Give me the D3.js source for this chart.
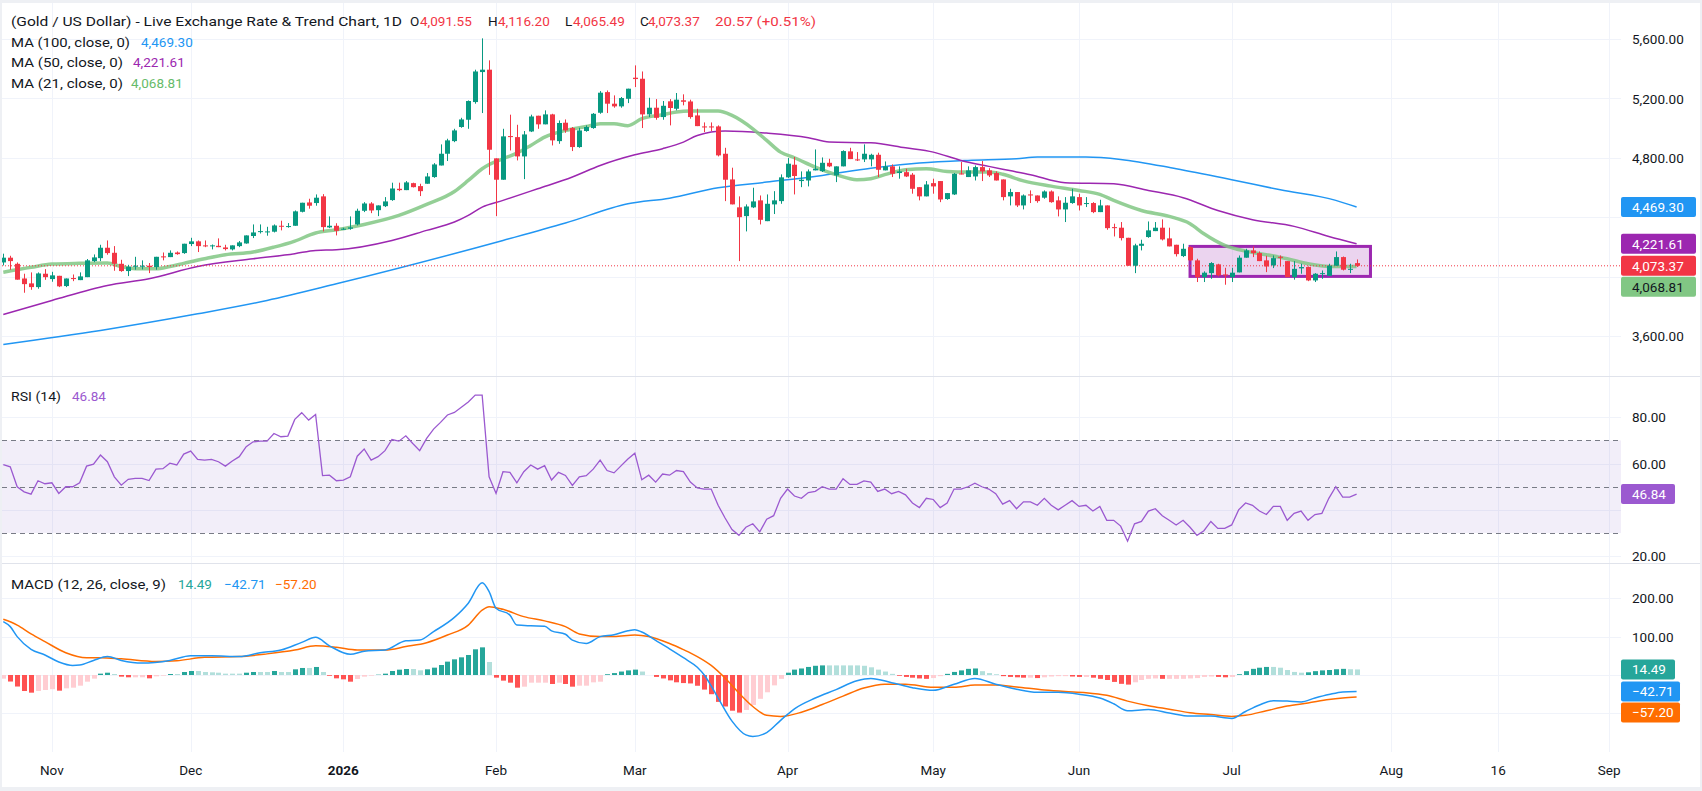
<!DOCTYPE html>
<html>
<head>
<meta charset="utf-8">
<script src="https://cdn.jsdelivr.net/npm/d3@7"></script>
<style>
  body { margin: 0; background: #fff; }
  svg { display: block; font-family: Roboto, 'Noto Sans', sans-serif; }
</style>
</head>
<body>
<div id="chart"></div>
<script>
// daily candles, index 0 = first visible bar (late Oct 2025)
const openP = [
  4096, 4128, 4087, 3988, 3955, 3930, 4020, 3984, 4006, 3937,
  3991, 3977, 3997, 4105, 4125, 4195, 4161, 4087, 4038, 4067,
  4072, 4074, 4065, 4137, 4132, 4163, 4159, 4220, 4238, 4211,
  4206, 4208, 4197, 4184, 4206, 4224, 4274, 4303, 4303, 4303,
  4343, 4339, 4343, 4437, 4500, 4496, 4541, 4332, 4343, 4321,
  4323, 4352, 4444, 4493, 4448, 4475, 4516, 4592, 4583, 4630,
  4610, 4626, 4671, 4749, 4828, 4913, 5008, 5057, 5176, 5378,
  5394, 4797, 4653, 4947, 4940, 4810, 4978, 5084, 5026, 5093,
  4913, 5037, 5001, 4873, 4981, 5001, 5104, 5243, 5165, 5147,
  5198, 5340, 5333, 5093, 5138, 5075, 5181, 5131, 5188, 5180,
  5086, 5012, 5012, 5012, 4828, 4655, 4467, 4408, 4467, 4514,
  4374, 4487, 4509, 4669, 4754, 4644, 4648, 4716, 4711, 4767,
  4682, 4743, 4844, 4790, 4790, 4790, 4821, 4716, 4743, 4698,
  4704, 4687, 4603, 4541, 4630, 4644, 4523, 4554, 4695, 4671,
  4675, 4738, 4716, 4698, 4655, 4541, 4570, 4480, 4554, 4547,
  4532, 4574, 4514, 4453, 4496, 4536, 4491, 4496, 4435, 4480,
  4334, 4330, 4262, 4074, 4208, 4267, 4307, 4330, 4258, 4215,
  4139, 4199, 4110, 3997, 4024, 4083, 4015, 3997, 4029, 4128,
  4177, 4159, 4110, 4076, 4134, 4105, 3997, 4056, 4065, 3975,
  4020, 4006, 4074, 4132, 4047, 4091.55
]
const highP = [
  4155, 4141, 4096, 4020, 4029, 4029, 4051, 4033, 4006, 3988,
  4015, 4029, 4119, 4150, 4215, 4244, 4206, 4114, 4080, 4134,
  4110, 4092, 4134, 4163, 4177, 4170, 4222, 4262, 4244, 4244,
  4217, 4258, 4215, 4211, 4240, 4278, 4352, 4352, 4336, 4352,
  4377, 4361, 4446, 4498, 4525, 4554, 4556, 4406, 4360, 4330,
  4406, 4458, 4502, 4502, 4480, 4536, 4633, 4633, 4644, 4633,
  4626, 4698, 4765, 4891, 4929, 4996, 5070, 5187, 5394, 5605,
  5457, 4797, 4996, 5091, 5023, 4981, 5091, 5084, 5120, 5097,
  5052, 5059, 5008, 5003, 5019, 5102, 5250, 5254, 5221, 5210,
  5266, 5423, 5382, 5205, 5196, 5183, 5196, 5237, 5228, 5192,
  5131, 5039, 5039, 5019, 4868, 4734, 4541, 4487, 4599, 4547,
  4554, 4576, 4689, 4799, 4806, 4709, 4722, 4857, 4803, 4794,
  4743, 4851, 4868, 4839, 4891, 4828, 4835, 4776, 4756, 4743,
  4727, 4698, 4603, 4644, 4660, 4644, 4563, 4698, 4772, 4743,
  4749, 4779, 4731, 4709, 4655, 4592, 4570, 4554, 4581, 4547,
  4581, 4581, 4541, 4536, 4592, 4559, 4536, 4502, 4518, 4480,
  4357, 4368, 4262, 4222, 4249, 4372, 4368, 4386, 4330, 4215,
  4222, 4204, 4121, 4036, 4098, 4087, 4060, 4060, 4143, 4188,
  4204, 4170, 4141, 4143, 4143, 4105, 4105, 4087, 4069, 4024,
  4042, 4087, 4170, 4136, 4087, 4116.2
]
const lowP = [
  4076, 4047, 3980, 3892, 3912, 3919, 3979, 3966, 3930, 3930,
  3970, 3977, 3997, 4098, 4105, 4148, 4040, 4033, 4004, 4047,
  4049, 4024, 4047, 4110, 4132, 4148, 4154, 4206, 4166, 4199,
  4184, 4199, 4177, 4177, 4199, 4222, 4260, 4291, 4276, 4298,
  4312, 4330, 4343, 4433, 4458, 4478, 4305, 4327, 4278, 4316,
  4316, 4345, 4435, 4428, 4408, 4469, 4511, 4576, 4583, 4601,
  4543, 4626, 4666, 4749, 4779, 4906, 5003, 4996, 5165, 5102,
  4686, 4408, 4653, 4850, 4783, 4657, 4974, 4996, 5026, 4884,
  4895, 4969, 4846, 4868, 4976, 4996, 5097, 5102, 5138, 5138,
  5169, 5277, 5001, 5075, 5057, 5057, 5019, 5120, 5154, 5064,
  5014, 4974, 4981, 4810, 4509, 4487, 4105, 4305, 4462, 4352,
  4374, 4422, 4491, 4664, 4554, 4603, 4608, 4716, 4705, 4738,
  4637, 4743, 4792, 4779, 4772, 4743, 4671, 4716, 4671, 4660,
  4671, 4559, 4514, 4541, 4559, 4502, 4518, 4550, 4689, 4671,
  4648, 4644, 4671, 4648, 4514, 4480, 4469, 4453, 4496, 4498,
  4525, 4498, 4406, 4368, 4491, 4446, 4469, 4428, 4435, 4316,
  4271, 4244, 4074, 4024, 4177, 4262, 4307, 4244, 4204, 4136,
  4132, 4105, 3964, 3964, 3986, 4002, 3946, 3964, 4029, 4128,
  4132, 4105, 4031, 4058, 4069, 3997, 3980, 4020, 3970, 3964,
  3986, 4006, 4074, 4042, 4024, 4065.49
]
const closeP = [
  4128, 4105, 3980, 3950, 3930, 4022, 3997, 4009, 3935, 3988,
  3984, 4002, 4110, 4130, 4195, 4159, 4087, 4038, 4067, 4074,
  4074, 4065, 4134, 4130, 4161, 4152, 4222, 4238, 4206, 4204,
  4211, 4199, 4186, 4211, 4231, 4278, 4298, 4307, 4305, 4345,
  4339, 4341, 4440, 4498, 4478, 4532, 4334, 4343, 4309, 4323,
  4332, 4444, 4493, 4446, 4480, 4507, 4594, 4583, 4635, 4603,
  4576, 4675, 4756, 4828, 4918, 4985, 5059, 5183, 5382, 5394,
  4855, 4653, 4945, 4940, 4810, 4958, 5079, 5026, 5093, 4918,
  5035, 4985, 4873, 4985, 5008, 5097, 5239, 5165, 5147, 5203,
  5266, 5331, 5093, 5138, 5070, 5151, 5136, 5192, 5178, 5075,
  5014, 5005, 5005, 4817, 4653, 4487, 4401, 4473, 4507, 4383,
  4491, 4514, 4669, 4761, 4678, 4653, 4709, 4727, 4767, 4743,
  4743, 4846, 4792, 4783, 4828, 4821, 4720, 4743, 4693, 4709,
  4675, 4592, 4541, 4621, 4608, 4520, 4563, 4693, 4689, 4716,
  4738, 4709, 4682, 4648, 4536, 4570, 4480, 4547, 4547, 4509,
  4574, 4502, 4453, 4498, 4541, 4480, 4496, 4435, 4480, 4327,
  4327, 4260, 4074, 4211, 4222, 4312, 4330, 4251, 4204, 4152,
  4188, 4110, 3997, 4027, 4092, 4009, 4009, 4027, 4128, 4177,
  4159, 4105, 4069, 4125, 4128, 3997, 4053, 4065, 3975, 4020,
  4024, 4074, 4132, 4047, 4053, 4073.37
]

// moving averages as [bar index, value]
const ma21 = [[0, 4030], [4, 4063], [7, 4085], [11, 4090], [15, 4092], [17, 4068], [19, 4054], [22, 4054], [24, 4069], [26, 4090], [29, 4121], [32, 4148], [36, 4166], [39, 4199], [42, 4240], [45, 4294], [48, 4316], [52, 4352], [57, 4413], [61, 4487], [65, 4574], [67, 4648], [69, 4727], [70, 4756], [72, 4794], [74, 4832], [76, 4884], [78, 4940], [81, 4985], [84, 5012], [86, 5030], [88, 5030], [90, 5017], [92, 5064], [95, 5091], [97, 5109], [99, 5115], [103, 5115], [105, 5086], [108, 4996], [110, 4918], [112, 4839], [114, 4801], [117, 4738], [120, 4687], [123, 4653], [125, 4660], [127, 4687], [130, 4720], [133, 4727], [136, 4709], [139, 4705], [142, 4705], [144, 4690], [147, 4645], [151, 4610], [155, 4581], [158, 4554], [160, 4514], [164, 4446], [168, 4406], [171, 4357], [173, 4289], [176, 4211], [179, 4172], [182, 4148], [185, 4121], [188, 4087], [191, 4069], [193, 4069], [195, 4068.81]]
const ma50 = [[0, 3746], [7, 3840], [15, 3941], [21, 3986], [28, 4069], [36, 4121], [42, 4155], [45, 4177], [48, 4181], [56, 4244], [61, 4312], [65, 4368], [67, 4413], [69, 4469], [72, 4514], [77, 4592], [82, 4671], [86, 4749], [91, 4821], [95, 4862], [98, 4906], [100, 4951], [104, 4981], [110, 4967], [116, 4936], [119, 4907], [125, 4902], [130, 4868], [134, 4839], [138, 4783], [142, 4743], [145, 4715], [148, 4687], [153, 4633], [160, 4626], [165, 4581], [170, 4532], [175, 4446], [180, 4384], [186, 4339], [191, 4271], [195, 4221.61]]
const ma100 = [[0, 3544], [14, 3638], [28, 3750], [38, 3840], [48, 3952], [72, 4244], [81, 4361], [90, 4491], [96, 4529], [103, 4599], [110, 4637], [118, 4682], [125, 4731], [132, 4765], [139, 4783], [146, 4794], [149, 4806], [156, 4806], [161, 4790], [169, 4727], [177, 4653], [184, 4585], [192, 4514], [195, 4469.3]]

const rsiValues = [
  59.6, 58.6, 50, 47.8, 46.8, 52.6, 51.3, 51.7, 47.1, 50,
  50, 51.7, 58.9, 59.8, 63.7, 60.8, 54.3, 50.7, 53.2, 53.6,
  53.6, 52.7, 57.6, 57.8, 60.2, 59.4, 64.1, 65.4, 61.8, 61.5,
  61.8, 60.8, 58.9, 61.1, 63, 67.3, 69.4, 69.7, 69.7, 73,
  71.6, 71.9, 79.1, 82, 78.8, 81.2, 54.8, 55, 52.6, 52.9,
  54.3, 63.2, 66.3, 61.5, 63, 65.6, 70.4, 69.7, 72, 68.7,
  65.6, 70.9, 74.9, 77.8, 81, 82.1, 84.3, 86.6, 89.6, 89.6,
  54.3, 47.1, 56.5, 56.2, 51.7, 56.5, 59.4, 57.6, 59.1, 52.9,
  56.2, 54.9, 50.6, 54.3, 54.8, 57.6, 61.5,
  57, 56, 59, 62, 64.5, 53, 55, 52, 55.5, 55,
  57, 56.5, 52, 49.5, 49, 49, 42, 36.5, 31.5, 29,
  32.5, 34, 30.5, 36, 37.5, 45, 49, 46, 45, 47.5,
  48, 50, 49, 49, 53.5, 51, 51, 52.5, 52, 48,
  49, 47, 48, 46.5, 43, 41, 45, 44.5, 41, 43,
  49, 49, 50, 51.5, 50, 49, 47, 42.5, 44, 40.5,
  43.5, 43.5, 42, 45, 42, 40, 42, 44, 41.5, 42,
  39.5, 41.5, 35.5, 35.5, 33, 26.5, 34, 35, 39.5, 40.5,
  37.5, 35.5, 33.5, 35.5, 32.5, 29, 31, 35, 32, 32,
  33.5, 40, 43, 42, 39.5, 38, 41.5, 41.5, 35.5, 38.5,
  39.5, 35.5, 38, 38.5, 45, 50, 45.5, 45.5, 46.84
]

const macdHist = [
  -9.5, -17, -30, -41.7, -46, -41.7, -39, -37, -40.8, -34.7,
  -33, -27.8, -17.4, -9.5, 3.5, 6, 2.6, -4.3, -6, -6,
  -6, -8.7, -3.5, -1.7, 2.6, 2.6, 7.8, 10.4, 10.4, 7.8,
  7, 6, 3.5, 3.5, 3.5, 6, 7.8, 7.8, 7.8, 10.4,
  7.8, 7.8, 14.8, 18.3, 18.3, 20.9, 7.8, -2, -8.7, -11.3,
  -17.4, -10.4, -4.3, -1.7, 0.9, 3.5, 10.4, 13.9, 15.6, 15.6,
  12.2, 14.8, 19.1, 26, 34.8, 40.8, 46, 52.1, 66.9, 72,
  33.9, -6.9, -14.7, -20, -33, -30.4, -20, -20, -20, -23.4,
  -20, -23.4, -30.4, -27.8, -27.8, -19.1, -17.4,
  2, 5, 9, 12, 14, 9, 0, -5, -9, -14,
  -19, -21, -22, -28, -38, -50, -70, -82, -93, -98,
  -91, -78, -62, -45, -27, -10, 6, 14, 17, 21,
  24, 25, 25, 25, 25, 25, 25, 24, 20, 14,
  9, 3, -2, -5, -7, -9, -10, -8, -3, 3,
  8, 12, 16, 17, 10, 5, 2, -3, -5, -6,
  -7, -7, -8, -6, -4, -3, -3, -4, -5, -5,
  -7, -10, -13, -18, -23, -25, -19, -13, -10, -9,
  -10, -10, -10, -10, -9, -8, -5, -4, -5, -6,
  -5, 2, 10, 16, 19, 21, 21, 19, 13, 8,
  6, 7, 10, 12, 13, 15, 16, 15, 14.49
]
const macdLine = [[0, 139], [1, 126], [2, 100], [4, 67], [6, 52], [8, 34], [10, 25], [11, 26], [13, 38], [15, 48], [17, 38], [20, 31], [24, 38], [27, 50], [30, 50], [34, 48], [37, 58], [40, 65], [43, 85], [45, 98], [47, 76], [50, 54], [52, 62], [55, 65], [58, 89], [60, 91], [62, 113], [65, 150], [67, 187], [69, 240], [70, 217], [71, 174], [73, 156], [74, 130], [76, 128], [78, 127], [79, 115], [81, 106], [82, 91], [84, 82], [86, 100], [88, 105], [90, 115], [91, 118], [92, 112], [94, 90], [96, 68], [98, 45], [100, 20], [101, 0], [103, -60], [105, -120], [107, -156], [108, -160], [110, -150], [112, -118], [114, -88], [117, -60], [120, -38], [123, -15], [125, -9], [128, -20], [131, -33], [134, -40], [137, -24], [140, -9], [143, -24], [146, -37], [149, -45], [152, -45], [155, -50], [158, -60], [160, -75], [162, -93], [165, -90], [168, -99], [171, -107], [174, -107], [177, -113], [179, -95], [181, -78], [183, -67], [185, -68], [187, -70], [189, -60], [191, -51], [193, -44], [195, -42.71]]
const signalLine = [[0, 145], [2, 130], [4, 107], [6, 87], [9, 58], [12, 45], [14, 45], [17, 42], [22, 35], [25, 37], [29, 46], [34, 48], [38, 55], [42, 65], [45, 76], [48, 72], [51, 65], [55, 65], [58, 74], [61, 84], [64, 104], [67, 130], [69, 169], [70, 178], [72, 171], [75, 152], [78, 141], [81, 126], [83, 107], [86, 100], [88, 100], [91, 104], [93, 100], [96, 82], [98, 66], [100, 48], [102, 25], [104, -8], [106, -47], [108, -82], [110, -105], [112, -108], [115, -97], [118, -77], [121, -55], [124, -34], [127, -24], [130, -24], [134, -32], [137, -32], [140, -26], [143, -26], [146, -31], [150, -39], [153, -43], [156, -46], [159, -53], [162, -68], [165, -80], [168, -89], [171, -98], [174, -103], [177, -108], [179, -105], [182, -93], [185, -81], [188, -73], [191, -64], [193, -60], [195, -57.2]]

const priceTicks = [3600, 4000, 4400, 4800, 5200, 5600]
const rsiTicks = [20, 40, 60, 80]
const macdTicks = [100, 200]
const timeLabels = ['Nov', 'Dec', '2026', 'Feb', 'Mar', 'Apr', 'May', 'Jun', 'Jul', 'Aug', '16', 'Sep']
const timeIndex = [7, 27, 49, 71, 91, 113, 134, 155, 177, 200, 215.4, 231.4]
// consolidation box drawn on the chart: bar range and price range
const boxBars = [171, 197]
const boxPrices = [4002, 4204]

const width = 1702
const height = 791
const plotRight = 1621
const green = '#089981'
const red = '#f23645'
const textColor = '#131722'
const gridColor = '#f0f3fa'

const svg = d3
  .select('#chart')
  .append('svg')
  .attr('width', width)
  .attr('height', height)

svg.append('rect').attr('width', width).attr('height', height).attr('fill', '#eef0f4')
svg.append('rect').attr('x', 2).attr('y', 3).attr('width', 1698).attr('height', 784).attr('fill', '#fff')

const x = d3.scaleLinear().domain([0, 195]).range([3.3, 3.3 + 195 * 6.94])
const yPrice = d3.scaleLinear().domain([3600, 5600]).range([336.1, 39.1])
const yRsi = d3.scaleLinear().domain([20, 80]).range([556.2, 417.3])
const yMacd = d3.scaleLinear().domain([-100, 200]).range([713.4, 598.2])

const panes = [
  { id: 'clip-price', top: 3, bottom: 376 },
  { id: 'clip-rsi', top: 376, bottom: 563 },
  { id: 'clip-macd', top: 563, bottom: 752 }
]
const defs = svg.append('defs')
panes.forEach(p => {
  defs
    .append('clipPath')
    .attr('id', p.id)
    .append('rect')
    .attr('x', 2)
    .attr('y', p.top)
    .attr('width', plotRight - 2)
    .attr('height', p.bottom - p.top)
})

// grid
const grid = svg.append('g').attr('stroke', gridColor).attr('stroke-width', 1)
timeIndex.forEach(i => {
  const gx = Math.round(x(i)) + 0.5
  panes.forEach(p => {
    grid.append('line').attr('x1', gx).attr('x2', gx).attr('y1', p.top).attr('y2', p.bottom)
  })
})
priceTicks.forEach(v => {
  grid.append('line').attr('x1', 2).attr('x2', plotRight).attr('y1', Math.round(yPrice(v)) + 0.5).attr('y2', Math.round(yPrice(v)) + 0.5)
})
rsiTicks.forEach(v => {
  grid.append('line').attr('x1', 2).attr('x2', plotRight).attr('y1', Math.round(yRsi(v)) + 0.5).attr('y2', Math.round(yRsi(v)) + 0.5)
})
;[-100, 0, 100, 200].forEach(v => {
  grid.append('line').attr('x1', 2).attr('x2', plotRight).attr('y1', Math.round(yMacd(v)) + 0.5).attr('y2', Math.round(yMacd(v)) + 0.5)
})

// ---- price pane
const pricePane = svg.append('g').attr('clip-path', 'url(#clip-price)')

pricePane
  .append('rect')
  .attr('x', x(boxBars[0]))
  .attr('y', yPrice(boxPrices[1]))
  .attr('width', x(boxBars[1]) - x(boxBars[0]))
  .attr('height', yPrice(boxPrices[0]) - yPrice(boxPrices[1]))
  .attr('fill', 'rgba(156, 39, 176, 0.2)')
  .attr('stroke', '#9c27b0')
  .attr('stroke-width', 3)

const maLine = d3
  .line()
  .x(d => x(d[0]))
  .y(d => yPrice(d[1]))
  .curve(d3.curveMonotoneX)

pricePane.append('path').datum(ma100).attr('d', maLine).attr('fill', 'none').attr('stroke', '#2196f3').attr('stroke-width', 1.5)
pricePane.append('path').datum(ma50).attr('d', maLine).attr('fill', 'none').attr('stroke', '#9c27b0').attr('stroke-width', 1.5)
pricePane.append('path').datum(ma21).attr('d', maLine).attr('fill', 'none').attr('stroke', '#81c784').attr('stroke-width', 3.5).attr('stroke-opacity', 0.85)

const lastClose = closeP[closeP.length - 1]
pricePane
  .append('line')
  .attr('x1', 2)
  .attr('x2', plotRight)
  .attr('y1', yPrice(lastClose))
  .attr('y2', yPrice(lastClose))
  .attr('stroke', red)
  .attr('stroke-dasharray', '1,2')

const candles = pricePane
  .selectAll('g.candle')
  .data(closeP)
  .enter()
  .append('g')
  .attr('class', 'candle')
  .attr('fill', (d, i) => (d >= openP[i] ? green : red))
  .attr('stroke', (d, i) => (d >= openP[i] ? green : red))

candles
  .append('line')
  .attr('x1', (d, i) => Math.round(x(i)) + 0.5)
  .attr('x2', (d, i) => Math.round(x(i)) + 0.5)
  .attr('y1', (d, i) => yPrice(highP[i]))
  .attr('y2', (d, i) => yPrice(lowP[i]))
  .attr('stroke-width', 1)

candles
  .append('rect')
  .attr('stroke', 'none')
  .attr('x', (d, i) => Math.round(x(i)) - 2)
  .attr('width', 5)
  .attr('y', (d, i) => yPrice(Math.max(d, openP[i])))
  .attr('height', (d, i) => Math.max(1, Math.abs(yPrice(d) - yPrice(openP[i]))))

// ---- RSI pane
const rsiPane = svg.append('g').attr('clip-path', 'url(#clip-rsi)')
rsiPane
  .append('rect')
  .attr('x', 2)
  .attr('width', plotRight - 2)
  .attr('y', yRsi(70))
  .attr('height', yRsi(30) - yRsi(70))
  .attr('fill', 'rgba(126, 87, 194, 0.1)')
;[70, 50, 30].forEach(v => {
  rsiPane
    .append('line')
    .attr('x1', 2)
    .attr('x2', plotRight)
    .attr('y1', Math.round(yRsi(v)) + 0.5)
    .attr('y2', Math.round(yRsi(v)) + 0.5)
    .attr('stroke', '#787b86')
    .attr('stroke-dasharray', '5,4')
})
rsiPane
  .append('path')
  .datum(rsiValues)
  .attr('d', d3.line().x((d, i) => x(i)).y(d => yRsi(d)))
  .attr('fill', 'none')
  .attr('stroke', '#9b59d0')
  .attr('stroke-width', 1.3)

// ---- MACD pane
const macdPane = svg.append('g').attr('clip-path', 'url(#clip-macd)')
macdPane
  .selectAll('rect.hist')
  .data(macdHist)
  .enter()
  .append('rect')
  .attr('class', 'hist')
  .attr('x', (d, i) => Math.round(x(i)) - 2)
  .attr('width', 5)
  .attr('y', d => Math.min(yMacd(d), yMacd(0)))
  .attr('height', d => Math.abs(yMacd(d) - yMacd(0)))
  .attr('fill', (d, i) => {
    const prev = i > 0 ? macdHist[i - 1] : d
    if (d >= 0) return d > prev ? '#26a69a' : '#b2dfdb'
    return d < prev ? '#ff5252' : '#ffcdd2'
  })

const macdPath = d3
  .line()
  .x(d => x(d[0]))
  .y(d => yMacd(d[1]))
  .curve(d3.curveMonotoneX)
macdPane.append('path').datum(signalLine).attr('d', macdPath).attr('fill', 'none').attr('stroke', '#ff6d00').attr('stroke-width', 1.5)
macdPane.append('path').datum(macdLine).attr('d', macdPath).attr('fill', 'none').attr('stroke', '#2196f3').attr('stroke-width', 1.5)

// pane separators
;[376, 563].forEach(py => {
  svg.append('line').attr('x1', 2).attr('x2', 1700).attr('y1', py + 0.5).attr('y2', py + 0.5).attr('stroke', '#e0e3eb')
})

// ---- right axis
const lastMa100 = ma100[ma100.length - 1][1]
const lastMa50 = ma50[ma50.length - 1][1]
const lastMa21 = ma21[ma21.length - 1][1]
const priceTags = [
  { value: lastMa100, color: '#2196f3', w: 75 },
  { value: lastMa50, color: '#9c27b0', w: 75 },
  { value: lastClose, color: red, w: 75 },
  { value: lastMa21, color: '#81c784', w: 75, text: textColor }
]
const rsiTags = [{ value: rsiValues[rsiValues.length - 1], color: '#9b59d0', w: 54 }]
const macdTags = [
  { value: macdHist[macdHist.length - 1], color: '#26a69a', w: 54 },
  { value: macdLine[macdLine.length - 1][1], color: '#2196f3', w: 59 },
  { value: signalLine[signalLine.length - 1][1], color: '#ff6d00', w: 59 }
]

// stack tags so they never overlap, like the platform does
function layoutTags(tags, yScale) {
  let lastBottom = -Infinity
  return tags
    .map(t => Object.assign({ cy: yScale(t.value) }, t))
    .sort((a, b) => a.cy - b.cy)
    .map(t => {
      let top = t.cy - 10
      if (top < lastBottom + 1) top = lastBottom + 1
      lastBottom = top + 20
      return Object.assign({ top: top }, t)
    })
}
const placedPrice = layoutTags(priceTags, yPrice)
const placedRsi = layoutTags(rsiTags, yRsi)
const placedMacd = layoutTags(macdTags, yMacd)

const axis = svg.append('g').attr('font-size', 13.5).attr('fill', textColor)

// tick label only shows where no tag covers it
function tickText(v, yScale, format, placed) {
  const ty = yScale(v)
  const covered = placed.filter(t => ty + 7 > t.top && ty - 7 < t.top + 20)
  if (covered.length === 0) {
    axis.append('text').attr('x', 1632).attr('y', ty).attr('dominant-baseline', 'central').text(format(v))
  }
}
priceTicks.forEach(v => tickText(v, yPrice, d3.format(',.2f'), placedPrice))
rsiTicks.forEach(v => tickText(v, yRsi, d3.format('.2f'), placedRsi))
macdTicks.forEach(v => tickText(v, yMacd, d3.format('.2f'), placedMacd))

function drawTags(placed, format) {
  placed.forEach(t => {
    axis
      .append('rect')
      .attr('x', 1621)
      .attr('y', t.top)
      .attr('width', t.w)
      .attr('height', 20)
      .attr('rx', 2)
      .attr('fill', t.color)
    axis
      .append('text')
      .attr('x', 1632)
      .attr('y', t.top + 10)
      .attr('dominant-baseline', 'central')
      .attr('fill', t.text || '#fff')
      .text(format(t.value))
  })
}
drawTags(placedPrice, d3.format(',.2f'))
drawTags(placedRsi, d3.format('.2f'))
drawTags(placedMacd, d3.format('.2f'))

// ---- time axis
svg
  .append('g')
  .attr('font-size', 13.5)
  .attr('fill', textColor)
  .selectAll('text')
  .data(timeLabels)
  .enter()
  .append('text')
  .attr('x', (d, i) => x(timeIndex[i]))
  .attr('y', 770)
  .attr('text-anchor', 'middle')
  .attr('dominant-baseline', 'central')
  .attr('font-weight', d => (d === '2026' ? 'bold' : 'normal'))
  .text(d => d)

// ---- legends
const legend = svg.append('g').attr('font-size', 13.5).attr('dominant-baseline', 'central')
function legendRow(y, parts) {
  parts.forEach(p => {
    const t = legend
      .append('text')
      .attr('x', p[0])
      .attr('y', y)
      .attr('fill', p[2] || textColor)
      .text(p[1])
    if (p[3]) t.attr('textLength', p[3]).attr('lengthAdjust', 'spacingAndGlyphs')
  })
}
const fmt = d3.format(',.2f')
legendRow(20.7, [
  [11, '(Gold / US Dollar) - Live Exchange Rate & Trend Chart, 1D', null, 391],
  [410, 'O'], [420, fmt(openP[195]), red],
  [488, 'H'], [498, fmt(highP[195]), red],
  [565, 'L'], [573, fmt(lowP[195]), red],
  [640, 'C'], [648, fmt(lastClose), red],
  [715, '20.57 (+0.51%)', red, 101]
])
legendRow(41.5, [[11, 'MA (100, close, 0)', null, 119], [141, fmt(lastMa100), '#2196f3']])
legendRow(62, [[11, 'MA (50, close, 0)', null, 112], [133, fmt(lastMa50), '#9c27b0']])
legendRow(82.5, [[11, 'MA (21, close, 0)', null, 112], [131, fmt(lastMa21), '#66bb6a']])
legendRow(396, [[11, 'RSI (14)', null, 50], [72, d3.format('.2f')(rsiValues[rsiValues.length - 1]), '#9b59d0']])
legendRow(584, [
  [11, 'MACD (12, 26, close, 9)', null, 155],
  [178, d3.format('.2f')(macdHist[macdHist.length - 1]), '#26a69a'],
  [224, d3.format('.2f')(macdLine[macdLine.length - 1][1]), '#2196f3'],
  [275, d3.format('.2f')(signalLine[signalLine.length - 1][1]), '#ff6d00']
])
</script>
</body>
</html>
